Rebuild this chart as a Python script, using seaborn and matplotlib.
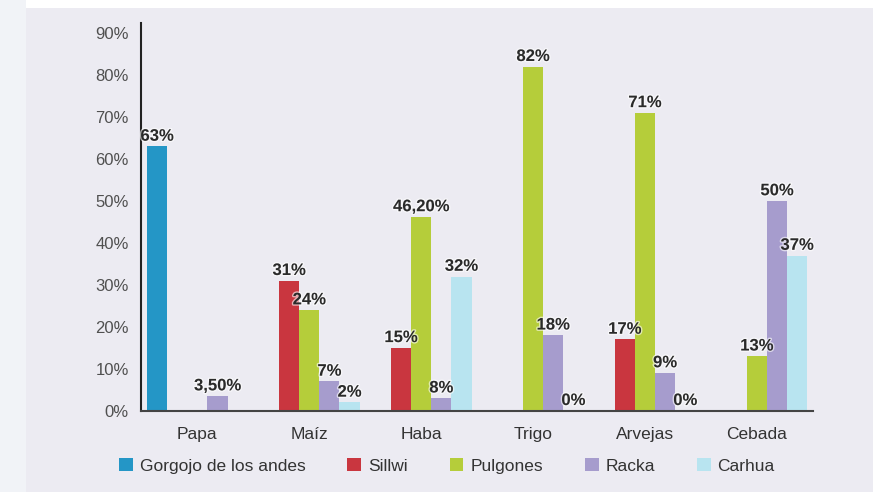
import pandas as pd
import seaborn as sns
import matplotlib.pyplot as plt
import matplotlib.patheffects as pe
from matplotlib.patches import Rectangle

# datos: % por cultivo y plaga
cultivos = ["Papa", "Maíz", "Haba", "Trigo", "Arvejas", "Cebada"]
plagas = ["Gorgojo de los andes", "Sillwi", "Pulgones", "Racka", "Carhua"]

gorgojo = [63, 0, 0, 0, 0, 0]
sillwi = [0, 31, 15, 0, 17, 0]
pulgones = [0, 24, 46.2, 82, 71, 13]
racka = [3.5, 7, 3, 18, 9, 50]
carhua = [0, 2, 32, 0, 0, 37]

# etiquetas tal como aparecen en el gráfico ("" = sin etiqueta)
et_gorgojo = ["63%", "", "", "", "", ""]
et_sillwi = ["", "31%", "15%", "", "17%", ""]
et_pulgones = ["", "24%", "46,20%", "82%", "71%", "13%"]
et_racka = ["3,50%", "7%", "8%", "18%", "9%", "50%"]
et_carhua = ["", "2%", "32%", "0%", "0%", "37%"]

colores = ["#2496c6", "#c9363f", "#b5cd3a", "#a69ccd", "#b8e4f0"]

valores = [gorgojo, sillwi, pulgones, racka, carhua]
etiquetas = [et_gorgojo, et_sillwi, et_pulgones, et_racka, et_carhua]

df = pd.DataFrame({
    "Cultivo": cultivos * len(plagas),
    "Plaga": [p for p in plagas for _ in cultivos],
    "Valor": [v for serie in valores for v in serie],
})

sns.set_style("white")
plt.rcParams["font.family"] = ["Liberation Sans", "DejaVu Sans"]

fondo = "#ecebf2"
fig = plt.figure(figsize=(8.73, 4.92), dpi=100, facecolor=fondo)
# franja blanca superior y borde izquierdo más claro (escaneo)
fig.patches.append(Rectangle((0, 0.983), 1, 0.017, transform=fig.transFigure,
                             facecolor="white", edgecolor="none", zorder=-1))
fig.patches.append(Rectangle((0, 0), 0.03, 1, transform=fig.transFigure,
                             facecolor="#f1f3f7", edgecolor="none", zorder=-1))

ax = fig.add_axes([0.162, 0.165, 0.769, 0.788])
ax.set_facecolor(fondo)

sns.barplot(data=df, x="Cultivo", y="Valor", hue="Plaga", order=cultivos,
            hue_order=plagas, palette=colores, saturation=1, width=0.9,
            errorbar=None, linewidth=0, ax=ax)

for cont, lab in zip(ax.containers, etiquetas):
    textos = ax.bar_label(cont, labels=lab, padding=2, fontsize=12,
                          fontweight="bold", color="#2a2a2a")
    for t in textos:
        t.set_path_effects([pe.withStroke(linewidth=2, foreground="white", alpha=0.6)])

ax.set_xlim(-0.5, 5.5)
ax.set_ylim(0, 92.4)
ax.set_yticks(range(0, 91, 10))
ax.set_yticklabels([f"{v}%" for v in range(0, 91, 10)])
ax.set_xlabel("")
ax.set_ylabel("")
ax.tick_params(axis="y", length=0, pad=9, labelsize=12, labelcolor="#505050")
ax.tick_params(axis="x", length=0, pad=12, labelsize=12.5, labelcolor="#333333")

for s in ["top", "right"]:
    ax.spines[s].set_visible(False)
ax.spines["left"].set_color("#222222")
ax.spines["left"].set_linewidth(1.5)
ax.spines["bottom"].set_color("#444444")
ax.spines["bottom"].set_linewidth(1.5)

ax.get_legend().remove()
handles = [Rectangle((0, 0), 1, 1, facecolor=c, edgecolor="none") for c in colores]
fig.legend(handles, plagas, loc="center", bbox_to_anchor=(0.512, 0.053), ncol=5,
           frameon=False, fontsize=12.5, handlelength=0.8, handleheight=0.8,
           handletextpad=0.4, columnspacing=2.4, labelcolor="#333333")

plt.savefig("out.png", dpi=100, facecolor=fondo)
plt.close()
